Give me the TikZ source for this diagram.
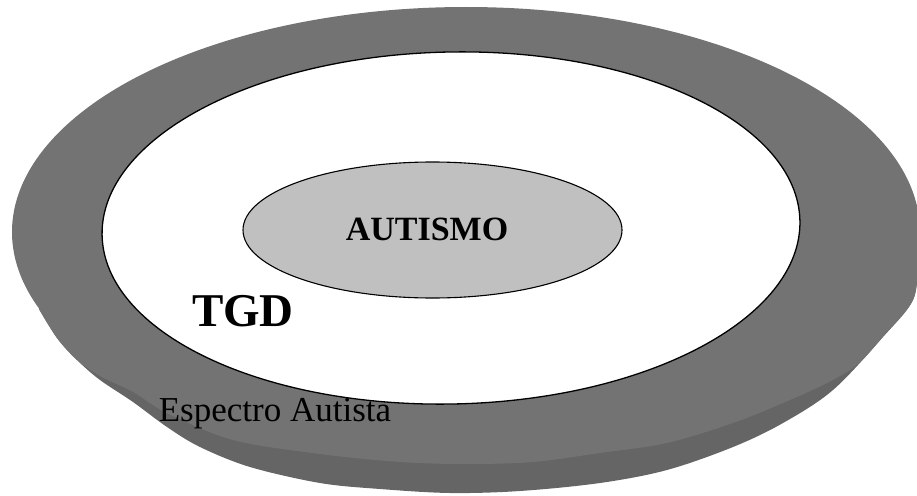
\documentclass[tikz,border=0pt]{standalone}
\usepackage{fontspec}
\setmainfont{Liberation Serif}
\usetikzlibrary{shapes.geometric}
\definecolor{disktop}{RGB}{115,115,115}
\definecolor{diskside}{RGB}{101,101,101}
\definecolor{coregrey}{RGB}{192,192,192}
\tikzset{
  ring/.style={ellipse, draw=black, line width=1.3pt, inner sep=0pt},
  lbl/.style={inner sep=0pt, text=black}
}
\begin{document}
\begin{tikzpicture}[x=1pt,y=-1pt]
\useasboundingbox (0,0) rectangle (917,495);
% lower side band of the disc
\fill[diskside] plot[smooth, tension=0.55] coordinates {
  (920,232) (918,262) (913,300) (883,337) (833,390) (783,423) (733,447)
  (667,470) (600,483) (520,491) (450,493) (380,489) (320,483) (250,467)
  (200,447) (167,427) (133,402) (100,380) (77,360) (57,338) (39,309)} -- cycle;
% top surface of the disc
\fill[disktop] (920,232) arc[start angle=0, end angle=-200, x radius=454, y radius=225]
  -- plot[smooth, tension=0.55] coordinates {
  (39,309) (57,338) (77,360) (100,376) (133,392) (167,413) (233,440) (320,454)
  (400,462) (466,464) (533,462) (600,453) (667,443) (733,423) (783,403)
  (827,383) (858,364) (885,334) (913,300) (918,262) (920,232)} -- cycle;
% TGD ring
\node[ring, fill=white, rotate=1.2, minimum width=698pt, minimum height=352pt] (tgd) at (451,228) {};
% autism core
\node[ring, fill=coregrey, line width=1.1pt, minimum width=379pt, minimum height=136pt] (aut) at (432.5,230) {};
\node[lbl, font=\bfseries\fontsize{34}{36}\selectfont] (autl) at (427,229) {AUTISMO};
\node[lbl, font=\bfseries\fontsize{47}{50}\selectfont] (tgdl) at (243,311) {TGD};
\node[lbl, font=\fontsize{35}{38}\selectfont] (esp) at (275,414) {Espectro Autista};
\end{tikzpicture}
\end{document}
